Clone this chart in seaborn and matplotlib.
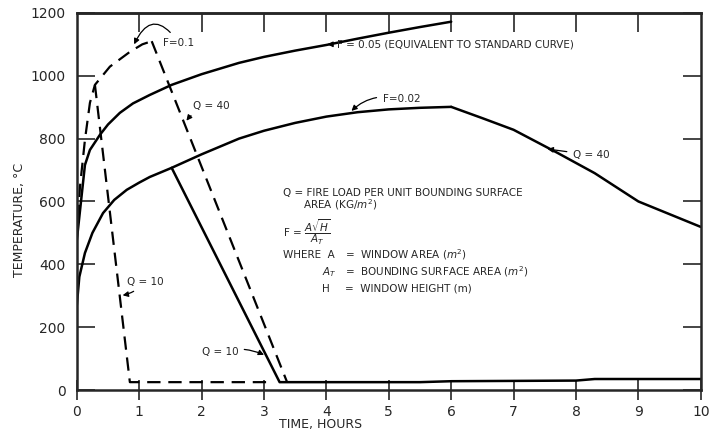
import numpy as np
import pandas as pd
import matplotlib
matplotlib.use('Agg')
import matplotlib.pyplot as plt
import seaborn as sns

# curves (time in hours, temperature in deg C)
t_f05 = [0, 0.13, 0.21, 0.37, 0.5, 0.69, 0.9, 1.17, 1.52, 2.0, 2.6, 3.0, 3.5, 4.0, 4.5, 5.0, 5.5, 6.0]
temp_f05 = [477, 716, 764, 812, 845, 882, 912, 939, 971, 1005, 1041, 1060, 1080, 1098, 1118, 1137, 1155, 1172]

t_f02 = [0, 0.04, 0.13, 0.25, 0.42, 0.6, 0.8, 1.0, 1.17, 1.52, 2.0, 2.6, 3.0, 3.5, 4.0, 4.5, 5.0, 5.5, 6.0]
temp_f02 = [270, 360, 436, 500, 563, 605, 637, 660, 678, 707, 750, 800, 825, 850, 870, 884, 893, 898, 901]

t_f02_q40 = [6.0, 6.5, 7.0, 7.7, 8.3, 9.0, 10.0]
temp_f02_q40 = [901, 865, 828, 755, 690, 600, 519]

t_f02_q10 = [1.52, 3.25, 5.5, 6.0, 8.0, 8.3, 10.0]
temp_f02_q10 = [707, 25, 25, 28, 30, 35, 35]

t_f01 = [0, 0.05, 0.13, 0.21, 0.29, 0.53, 0.85, 1.05, 1.2]
temp_f01 = [480, 646, 796, 914, 971, 1029, 1076, 1100, 1110]

t_f01_q10 = [0.29, 0.85, 3.05]
temp_f01_q10 = [971, 25, 25]

t_f01_q40 = [1.2, 3.37]
temp_f01_q40 = [1110, 25]

x_ticks = list(range(0, 11))
y_ticks = list(range(0, 1201, 200))

sns.set_style('ticks')
plt.rcParams['font.family'] = ['DejaVu Sans']

fig = plt.figure(figsize=(7.18, 4.30), dpi=100)
ax = fig.add_axes([0.107, 0.093, 0.869, 0.877])

solid = [(t_f05, temp_f05), (t_f02, temp_f02), (t_f02_q40, temp_f02_q40), (t_f02_q10, temp_f02_q10)]
dashed = [(t_f01, temp_f01), (t_f01_q10, temp_f01_q10), (t_f01_q40, temp_f01_q40)]

for tx, ty in solid:
    sns.lineplot(x=tx, y=ty, ax=ax, color='black', lw=1.8, sort=False, estimator=None)
for tx, ty in dashed:
    sns.lineplot(x=tx, y=ty, ax=ax, color='black', lw=1.6, sort=False, estimator=None,
                 linestyle=(0, (6, 3.5)))

ax.set_xlim(0, 10)
ax.set_ylim(0, 1200)
ax.set_xticks(x_ticks)
ax.set_yticks(y_ticks)
for s in ax.spines.values():
    s.set_linewidth(1.8)
    s.set_visible(True)
ax.tick_params(axis='y', direction='in', length=13, width=1.2, labelsize=10, right=True, pad=8)
ax.tick_params(axis='x', direction='inout', length=14, width=1.2, labelsize=10, top=False, pad=4)

# top ticks point inward only, without labels
top = ax.secondary_xaxis('top')
top.set_xticks(x_ticks[1:-1])
top.tick_params(direction='in', length=14, width=1.2, labeltop=False)
top.spines['top'].set_linewidth(1.8)

ax.set_xlabel('TIME, HOURS', fontsize=9)
ax.set_ylabel('TEMPERATURE, °C', fontsize=9)
ax.xaxis.set_label_coords(0.39, -0.075)
ax.yaxis.set_label_coords(-0.082, 0.45)

fs = 7.5
arrow = dict(arrowstyle='-|>', color='black', lw=0.9, mutation_scale=8)

ax.annotate('F=0.1', xy=(0.9, 1092), xytext=(1.38, 1105), fontsize=fs, va='center',
            arrowprops=dict(arrow, connectionstyle='arc3,rad=0.9'))
ax.annotate('Q = 40', xy=(1.73, 850), xytext=(1.86, 905), fontsize=fs, va='center',
            arrowprops=dict(arrow, connectionstyle='arc3,rad=0.2'))
ax.annotate('F = 0.05 (EQUIVALENT TO STANDARD CURVE)', xy=(3.97, 1100), xytext=(4.17, 1100),
            fontsize=fs, va='center', arrowprops=dict(arrow))
ax.annotate('F=0.02', xy=(4.37, 882), xytext=(4.9, 925), fontsize=fs, va='center',
            arrowprops=dict(arrow, connectionstyle='arc3,rad=0.3'))
ax.annotate('Q = 40', xy=(7.5, 768), xytext=(7.95, 748), fontsize=fs, va='center',
            arrowprops=dict(arrow))
ax.annotate('Q = 10', xy=(0.69, 300), xytext=(0.8, 345), fontsize=fs, va='center',
            arrowprops=dict(arrow, connectionstyle='arc3,rad=-0.2'))
ax.annotate('Q = 10', xy=(3.04, 108), xytext=(2.0, 121), fontsize=fs, va='center',
            arrowprops=dict(arrow, connectionstyle='arc3,rad=-0.2'))

ax.text(3.3, 627, 'Q = FIRE LOAD PER UNIT BOUNDING SURFACE', fontsize=fs, va='center')
ax.text(3.62, 589, 'AREA (KG/$m^2$)', fontsize=fs, va='center')
ax.text(3.3, 502, r'F = $\dfrac{A\sqrt{H}}{A_T}$', fontsize=fs, va='center')
ax.text(3.3, 430, 'WHERE  A', fontsize=fs, va='center')
ax.text(4.3, 430, '=  WINDOW AREA ($m^2$)', fontsize=fs, va='center')
ax.text(3.93, 376, '$A_T$', fontsize=fs, va='center')
ax.text(4.3, 376, '=  BOUNDING SURFACE AREA ($m^2$)', fontsize=fs, va='center')
ax.text(3.93, 322, 'H', fontsize=fs, va='center')
ax.text(4.3, 322, '=  WINDOW HEIGHT (m)', fontsize=fs, va='center')

fig.savefig('out.png', dpi=100)
